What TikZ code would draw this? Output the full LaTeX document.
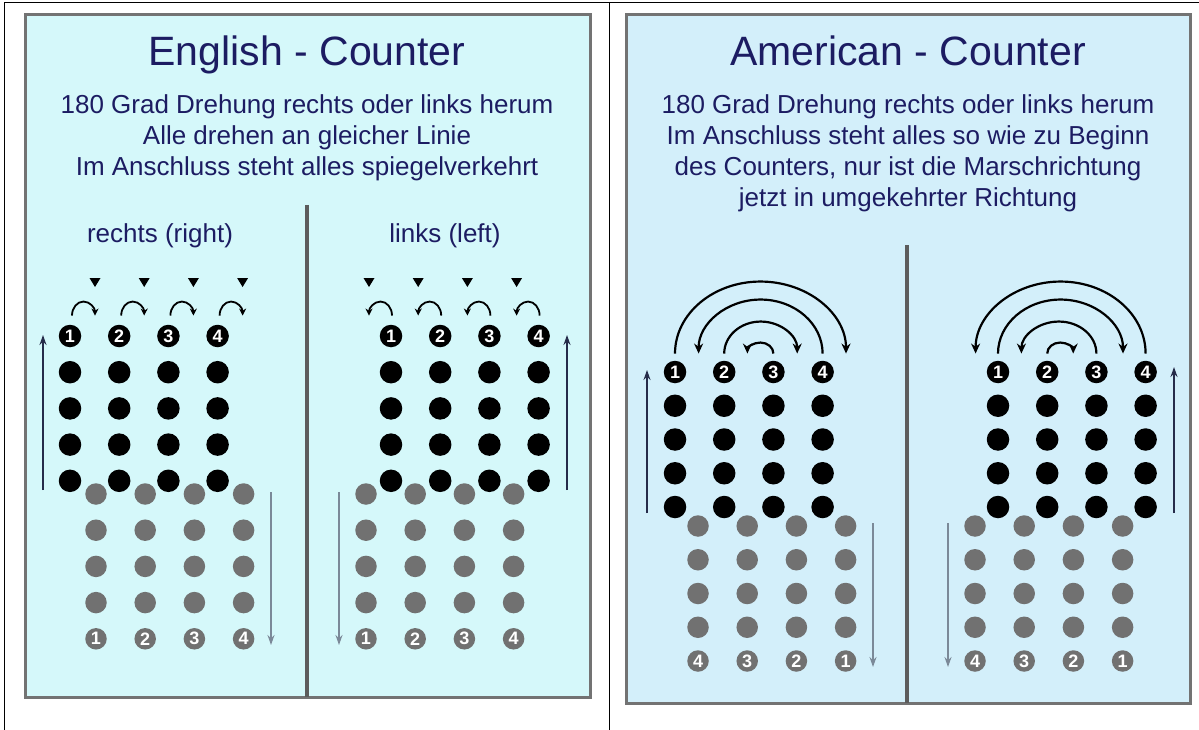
\documentclass[tikz,border=0pt]{standalone}
\usepackage{fontspec}
\setmainfont{Liberation Sans}
\usetikzlibrary{arrows.meta}
\definecolor{navy}{HTML}{1C1C62}
\definecolor{paneleng}{HTML}{D5F8FA}
\definecolor{panelame}{HTML}{D3EFFA}
\definecolor{framegrey}{HTML}{737373}
\definecolor{dotgrey}{HTML}{717171}
\definecolor{backgrey}{HTML}{7B8998}
\definecolor{marchblue}{HTML}{262C4A}
\tikzset{dotb/.style = {fill, circle, inner sep = 0, minimum size = 22.5}}
\tikzset{dotg/.style = {fill = dotgrey, circle, inner sep = 0, minimum size = 21.5}}
\tikzset{numb/.style = {dotb, minimum size = 22.5, text = white,
                        font = \fontsize{18}{18}\selectfont\bfseries}}
\tikzset{numg/.style = {numb, fill = dotgrey, minimum size = 21.5}}
\tikzset{turn/.style = {line width = 1.8, -{Stealth[length = 7pt, width = 7pt]}}}
\tikzset{swing/.style = {line width = 2.2, -{Stealth[length = 10pt, width = 9pt]}}}
\tikzset{march/.style = {draw = marchblue, line width = 1.6, -{Stealth[length = 10pt, width = 7pt]}}}
\tikzset{back/.style = {draw = backgrey, line width = 1.6, -{Stealth[length = 10pt, width = 7pt]}}}
\tikzset{panel/.style = {draw = framegrey, line width = 3}}
\tikzset{split/.style = {draw = framegrey!80!black, line width = 4}}
\tikzset{head/.style = {text = navy, anchor = base, font = \fontsize{41}{48}\selectfont}}
\tikzset{info/.style = {text = navy, anchor = base, font = \fontsize{26}{31}\selectfont}}

\begin{document}
\begin{tikzpicture}[x = 1pt, y = -1pt]
    \useasboundingbox (0,0) rectangle (1199,730);
    % table lines
    \draw[line width = 0.8] (4,730) -- (4,2) -- (1199,2);
    \draw[line width = 0.8] (609,2) -- (609,730);
    % panels
    \draw[panel, fill = paneleng] (25,15) rectangle (590,697);
    \draw[panel, fill = panelame] (626,15) rectangle (1190,703);
    \draw[split] (307,205) -- (307,697);
    \draw[split] (907,245) -- (907,703);
    % texts
    \node[head] (headeng) at (307,66) {English - Counter};
    \node[head] (headame) at (908,66) {American - Counter};
    \foreach \i/\line in {1/180 Grad Drehung rechts oder links herum,
                          2/Alle drehen an gleicher Linie,
                          3/Im Anschluss steht alles spiegelverkehrt}
        \node[info] (infoeng\i) at (307, {83+31*\i}) {\line};
    \foreach \i/\line in {1/180 Grad Drehung rechts oder links herum,
                          2/Im Anschluss steht alles so wie zu Beginn,
                          3/{des Counters, nur ist die Marschrichtung},
                          4/jetzt in umgekehrter Richtung}
        \node[info] (infoame\i) at (908, {83+31*\i}) {\line};
    \node[info] (right) at (160,242) {rechts (right)};
    \node[info] (left) at (445,242) {links (left)};
    % dots: grey after, black before the counter
    \foreach \p/\bx/\gx/\by/\gy/\dy/\rev in {rr/70/96/336/494/36.2/0, ll/391/366/336/494/36.2/0,
                                             al/675/698/372/526/33.75/1, ar/998/975/372/526/33.75/1} {
        \foreach \c in {1,...,4} {
            \foreach \r in {1,...,4}
                \node[dotg] (\p g\c\r) at ({\gx+49.2*(\c-1)}, {\gy+\dy*(\r-1)}) {};
            \pgfmathtruncatemacro{\n}{ifthenelse(\rev==1, 5-\c, \c)}
            \node[numg] (\p g\c) at ({\gx+49.2*(\c-1)}, {\gy+4*\dy}) {\n};
        }
        \foreach \c in {1,...,4} {
            \node[numb] (\p b\c) at ({\bx+49.2*(\c-1)}, \by) {\c};
            \foreach \r in {1,...,4}
                \node[dotb] (\p b\c\r) at ({\bx+49.2*(\c-1)}, {\by+\dy*\r}) {};
        }
    }
    % English turns
    \foreach \c in {1,...,4} {
        \coordinate (rrt\c) at ({95+49.2*(\c-1)}, 316);
        \coordinate (llt\c) at ({369+49.2*(\c-1)}, 316);
        \draw[turn] ([xshift = 2pt, yshift = 9pt]rrb\c.north)
            arc[start angle = 180, end angle = 0, x radius = 11.5pt, y radius = 14pt];
        \draw[turn] ([xshift = 1pt, yshift = 9pt]llb\c.north)
            arc[start angle = 0, end angle = 180, x radius = 11.5pt, y radius = 14pt];
        \fill (rrt\c) ++(-5.5,-38) -- ++(11,0) -- ++(-5.5,9) -- cycle; % target mark
        \fill (llt\c) ++(-5.5,-38) -- ++(11,0) -- ++(-5.5,9) -- cycle;
    }
    % American turns
    \foreach \s/\a/\b/\rx/\ry in {1/180/0/85.5/72, 4/0/180/62/54, 2/180/0/36.5/32, 3/0/180/13/11}
        \draw[swing] ([yshift = 7pt]alb\s.north)
            arc[start angle = \a, end angle = \b, x radius = \rx pt, y radius = \ry pt];
    \foreach \s/\a/\b/\rx/\ry in {4/0/180/85/72, 1/180/0/62.5/54, 3/0/180/37.5/32, 2/180/0/13/11}
        \draw[swing] ([yshift = 7pt]arb\s.north)
            arc[start angle = \a, end angle = \b, x radius = \rx pt, y radius = \ry pt];
    % marching directions
    \foreach \p/\ux/\uy/\ut/\dx/\dy/\dt in {rr/43/490/335/271/492/645, ll/567/490/335/339/492/645,
                                           al/647/513/370/873/523/667, ar/1174/513/367/948/523/667} {
        \coordinate (\p m0) at (\ux,\uy);
        \coordinate (\p m1) at (\ux,\ut);
        \coordinate (\p w0) at (\dx,\dy);
        \coordinate (\p w1) at (\dx,\dt);
        \draw[march] (\p m0) -- (\p m1);
        \draw[back] (\p w0) -- (\p w1);
    }
\end{tikzpicture}
\end{document}
